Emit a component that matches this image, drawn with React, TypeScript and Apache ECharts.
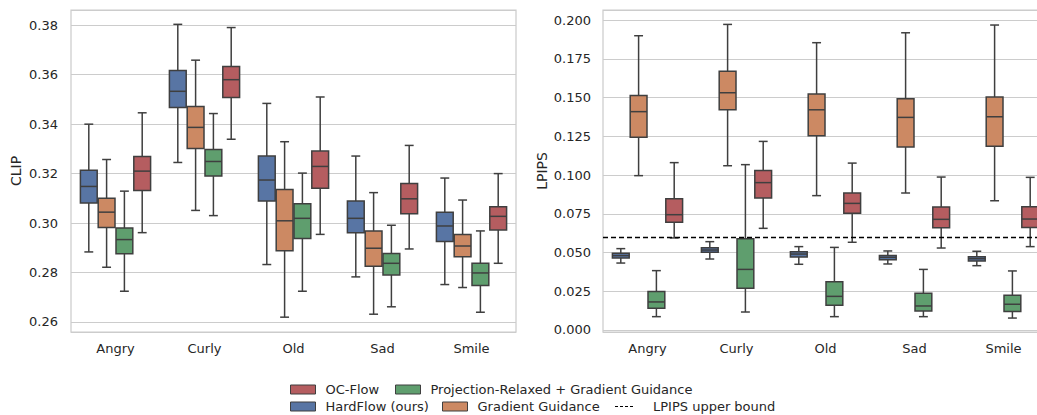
import React, { useEffect, useRef } from "react";
import * as echarts from "echarts";

const CATEGORIES = ["Angry", "Curly", "Old", "Sad", "Smile"];
const SERIES_NAMES = ["HardFlow (ours)", "Gradient Guidance", "Projection-Relaxed + Gradient Guidance", "OC-Flow"];
const COLORS = ["#5875A4", "#CC8963", "#5F9E6E", "#B55D60"];

// [lower whisker, Q1, median, Q3, upper whisker] per category
const CLIP_HARDFLOW = [[0.2883, 0.3081, 0.3148, 0.3214, 0.34], [0.3245, 0.3467, 0.3533, 0.3617, 0.3804], [0.2832, 0.3089, 0.3174, 0.3271, 0.3484], [0.2782, 0.2961, 0.3019, 0.3089, 0.3271], [0.2751, 0.2925, 0.2988, 0.3044, 0.3182]];
const CLIP_GRADIENT = [[0.2821, 0.2982, 0.3044, 0.31, 0.3257], [0.3051, 0.3302, 0.3387, 0.3471, 0.3659], [0.2619, 0.2888, 0.3009, 0.3136, 0.3329], [0.2631, 0.2825, 0.2898, 0.2968, 0.3123], [0.2739, 0.2863, 0.2907, 0.2954, 0.3093]];
const CLIP_PROJ = [[0.2724, 0.2876, 0.2933, 0.298, 0.3129], [0.303, 0.319, 0.3249, 0.3298, 0.3443], [0.2724, 0.2937, 0.3019, 0.3078, 0.3202], [0.2661, 0.279, 0.2837, 0.2877, 0.2991], [0.2639, 0.2747, 0.2798, 0.2837, 0.2968]];
const CLIP_OCFLOW = [[0.2961, 0.3132, 0.321, 0.3269, 0.3446], [0.3339, 0.3508, 0.358, 0.3633, 0.3791], [0.2954, 0.3141, 0.3229, 0.3291, 0.351], [0.2895, 0.3038, 0.3098, 0.316, 0.3314], [0.2837, 0.2972, 0.3027, 0.3066, 0.32]];

const LPIPS_HARDFLOW = [[0.0432, 0.0465, 0.048, 0.0495, 0.0525], [0.0458, 0.0501, 0.0516, 0.0531, 0.057], [0.0424, 0.0471, 0.049, 0.0505, 0.0538], [0.0426, 0.0454, 0.0469, 0.048, 0.051], [0.0415, 0.0445, 0.046, 0.0473, 0.0508]];
const LPIPS_GRADIENT = [[0.0996, 0.1243, 0.1409, 0.1514, 0.1899], [0.106, 0.1421, 0.1531, 0.1669, 0.1972], [0.0867, 0.1254, 0.1421, 0.1523, 0.1854], [0.0884, 0.1181, 0.1372, 0.1492, 0.1918], [0.0834, 0.1185, 0.1376, 0.1503, 0.1968]];
const LPIPS_PROJ = [[0.0086, 0.014, 0.0181, 0.0249, 0.0383], [0.0116, 0.0269, 0.0391, 0.0589, 0.1067], [0.0086, 0.0159, 0.0217, 0.0312, 0.0533], [0.0086, 0.0123, 0.0155, 0.0237, 0.0391], [0.0077, 0.012, 0.0166, 0.0224, 0.0381]];
const LPIPS_OCFLOW = [[0.0594, 0.0695, 0.0744, 0.0847, 0.108], [0.0656, 0.0852, 0.0951, 0.103, 0.1217], [0.0566, 0.0753, 0.0817, 0.0884, 0.1077], [0.0529, 0.066, 0.0714, 0.0794, 0.0987], [0.0538, 0.0662, 0.0716, 0.0796, 0.0985]];

const LPIPS_BOUND = 0.06;
const LPIPS_BOUND_NAME = "LPIPS upper bound";

const FONT = "DejaVu Sans";
const TEXT = "#262626";
const LINE = "#3f3f3f";
const GRIDC = "#cccccc";

function makeRender(k: number) {
  return (params: any, api: any) => {
    const ci = api.value(0);
    const lo = api.value(1), q1 = api.value(2), med = api.value(3), q3 = api.value(4), hi = api.value(5);
    const band = api.size([1, 0])[0];
    const w = band * 0.2;
    const cx = api.coord([ci, med])[0] + (k - 1.5) * w;
    const yLo = api.coord([ci, lo])[1];
    const yQ1 = api.coord([ci, q1])[1];
    const yMed = api.coord([ci, med])[1];
    const yQ3 = api.coord([ci, q3])[1];
    const yHi = api.coord([ci, hi])[1];
    const bw = w - 1;
    const cap = w / 4;
    const ls = { stroke: LINE, lineWidth: 1.5 };
    return {
      type: "group",
      children: [
        { type: "line", shape: { x1: cx, y1: yQ3, x2: cx, y2: yHi }, style: ls },
        { type: "line", shape: { x1: cx, y1: yQ1, x2: cx, y2: yLo }, style: ls },
        { type: "line", shape: { x1: cx - cap, y1: yHi, x2: cx + cap, y2: yHi }, style: ls },
        { type: "line", shape: { x1: cx - cap, y1: yLo, x2: cx + cap, y2: yLo }, style: ls },
        {
          type: "rect",
          shape: { x: cx - bw / 2, y: yQ3, width: bw, height: yQ1 - yQ3 },
          style: { fill: COLORS[k], stroke: LINE, lineWidth: 1.5 },
        },
        { type: "line", shape: { x1: cx - bw / 2, y1: yMed, x2: cx + bw / 2, y2: yMed }, style: ls },
      ],
    };
  };
}

function buildSeries(sets: number[][][], gi: number) {
  return sets.map((set, k) => ({
    type: "custom",
    name: SERIES_NAMES[k],
    xAxisIndex: gi,
    yAxisIndex: gi,
    renderItem: makeRender(k),
    itemStyle: { color: COLORS[k] },
    encode: { x: 0, y: [1, 2, 3, 4, 5] },
    data: CATEGORIES.map((c, i) => [i, ...set[i]]),
    silent: true,
  }));
}

export default function App() {
  const ref = useRef<HTMLDivElement>(null);
  useEffect(() => {
    document.body.style.margin = "0";
    if (!ref.current) return;
    const chart = echarts.init(ref.current, undefined, { renderer: "svg" });

    const xAxisBase = {
      type: "category",
      data: CATEGORIES,
      axisLine: { show: false },
      axisTick: { show: false },
      splitLine: { show: false },
      axisLabel: { color: TEXT, fontFamily: FONT, fontSize: 13, margin: 10 },
    };
    const yAxisBase = {
      type: "value",
      axisLine: { show: false },
      axisTick: { show: false },
      splitLine: { show: true, lineStyle: { color: GRIDC, width: 1 } },
      nameLocation: "middle",
      nameTextStyle: { color: TEXT, fontFamily: FONT, fontSize: 14 },
    };

    const legendCommon = {
      selectedMode: false,
      itemWidth: 25,
      itemHeight: 9,
      icon: "rect",
      itemStyle: { borderColor: LINE, borderWidth: 1 },
      textStyle: { color: TEXT, fontFamily: FONT, fontSize: 13, padding: [0, 0, 0, 5] },
      padding: 0,
    };

    const option: any = {
      animation: false,
      backgroundColor: "#ffffff",
      grid: [
        { left: 71, top: 10, width: 445, height: 322, show: true, borderColor: GRIDC, borderWidth: 1.25, backgroundColor: "transparent" },
        { left: 603, top: 10, width: 445, height: 322, show: true, borderColor: GRIDC, borderWidth: 1.25, backgroundColor: "transparent" },
      ],
      xAxis: [
        { ...xAxisBase, gridIndex: 0 },
        { ...xAxisBase, gridIndex: 1 },
      ],
      yAxis: [
        {
          ...yAxisBase,
          gridIndex: 0,
          name: "CLIP",
          nameGap: 48,
          min: 0.2559,
          max: 0.3862,
          splitNumber: 6,
          minInterval: 0.02,
          maxInterval: 0.02,
          axisLabel: {
            color: TEXT, fontFamily: FONT, fontSize: 13, margin: 13,
            showMinLabel: false, showMaxLabel: false,
            formatter: (v: number) => v.toFixed(2),
          },
        },
        {
          ...yAxisBase,
          gridIndex: 1,
          name: "LPIPS",
          nameGap: 54,
          min: -0.0013,
          max: 0.2065,
          splitNumber: 8,
          minInterval: 0.025,
          maxInterval: 0.025,
          axisLabel: {
            color: TEXT, fontFamily: FONT, fontSize: 13, margin: 12,
            showMinLabel: false, showMaxLabel: false,
            formatter: (v: number) => v.toFixed(3),
          },
        },
      ],
      legend: [
        { ...legendCommon, data: ["OC-Flow"], left: 290, top: 383 },
        { ...legendCommon, data: ["Projection-Relaxed + Gradient Guidance"], left: 395, top: 383 },
        { ...legendCommon, data: ["HardFlow (ours)"], left: 290, top: 400 },
        { ...legendCommon, data: ["Gradient Guidance"], left: 442, top: 400 },
        {
          ...legendCommon,
          data: [LPIPS_BOUND_NAME],
          left: 615,
          top: 400,
          itemWidth: 18,
          itemHeight: 1.3,
          icon: "path://M0,0h3v1h-3zM5,0h3v1h-3zM10,0h3v1h-3zM15,0h3v1h-3z",
          itemStyle: { borderWidth: 0, color: "#000" },
          textStyle: { color: TEXT, fontFamily: FONT, fontSize: 13, padding: [0, 0, 0, 15] },
        },
      ],
      series: [
        ...buildSeries([CLIP_HARDFLOW, CLIP_GRADIENT, CLIP_PROJ, CLIP_OCFLOW], 0),
        ...buildSeries([LPIPS_HARDFLOW, LPIPS_GRADIENT, LPIPS_PROJ, LPIPS_OCFLOW], 1),
        {
          type: "line",
          name: LPIPS_BOUND_NAME,
          xAxisIndex: 1,
          yAxisIndex: 1,
          data: [],
          itemStyle: { color: "#000" },
          lineStyle: { color: "#000" },
          markLine: {
            silent: true,
            symbol: "none",
            label: { show: false },
            lineStyle: { color: "#000", type: [5, 3], width: 1.3 },
            data: [{ yAxis: LPIPS_BOUND }],
          },
        },
      ],
    };
    chart.setOption(option);
    return () => chart.dispose();
  }, []);

  return (
    <div style={{ width: 1037, height: 415, overflow: "hidden", position: "relative" }}>
      <div ref={ref} style={{ width: 1060, height: 415 }} />
    </div>
  );
}
